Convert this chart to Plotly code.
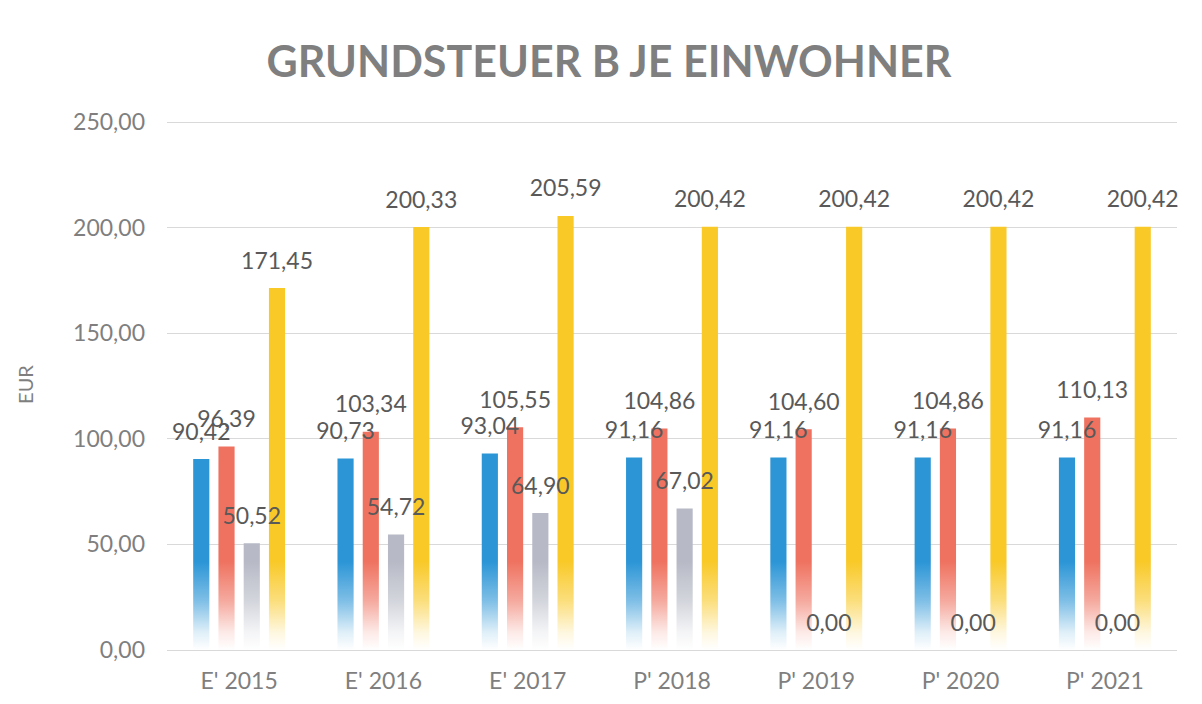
import plotly.graph_objects as go

categories = ["E' 2015", "E' 2016", "E' 2017", "P' 2018", "P' 2019", "P' 2020", "P' 2021"]
series_names = ["Reihe 1", "Reihe 2", "Reihe 3", "Reihe 4"]
s1 = [90.42, 90.73, 93.04, 91.16, 91.16, 91.16, 91.16]
s2 = [96.39, 103.34, 105.55, 104.86, 104.60, 104.86, 110.13]
s3 = [50.52, 54.72, 64.90, 67.02, 0.00, 0.00, 0.00]
s4 = [171.45, 200.33, 205.59, 200.42, 200.42, 200.42, 200.42]
colors = ["#2b95d6", "#ef7260", "#b7bac6", "#f9c928"]
y_ticks = [0, 50, 100, 150, 200, 250]

all_series = [s1, s2, s3, s4]
GAP = 0.3
FONT = "Lato"
Y_RANGE = [0, 251.5]
LABEL_LIFT = 6.5  # label offset above bar top, in axis units

fig = go.Figure()
for name, vals, col in zip(series_names, all_series, colors):
    fig.add_trace(go.Bar(x=categories, y=vals, name=name, marker=dict(color=col, line=dict(width=0)),
                         hoverinfo="skip", showlegend=False))

# white fade at the bottom of the bars
fig.add_trace(go.Scatter(x=[0, 1], y=[42, 42], xaxis="x2", mode="lines", line=dict(width=0),
                         fill="tozeroy",
                         fillgradient=dict(type="vertical",
                                           colorscale=[[0, "rgba(255,255,255,1)"], [0.2, "rgba(255,255,255,0.85)"],
                                                       [0.55, "rgba(255,255,255,0.4)"], [1, "rgba(255,255,255,0)"]]),
                         hoverinfo="skip", showlegend=False))

# data labels
for name, vals in zip(series_names, all_series):
    fig.add_trace(go.Scatter(x=categories, y=vals, xaxis="x3", yaxis="y2", mode="text", name=name,
                             texttemplate="%{y:.2f}", textposition="top center",
                             textfont=dict(family=FONT, size=23, color="#595959"),
                             cliponaxis=False, showlegend=False, hoverinfo="skip"))

fig.update_layout(
    width=1202, height=704,
    margin=dict(l=159, r=33, t=111, b=62),
    paper_bgcolor="white", plot_bgcolor="white",
    separators=",.",
    barmode="group", bargap=GAP, bargroupgap=0.36,
    scattermode="group", scattergap=GAP,
    title=dict(text="<b>GRUNDSTEUER B JE EINWOHNER</b>", x=0.5, xanchor="center", y=0.923, yanchor="middle",
               font=dict(family=FONT, size=43, color="#7f7f7f")),
    xaxis=dict(type="category", range=[-0.5, 6.5], showgrid=False, showline=True, linecolor="#d9d9d9",
               linewidth=1, ticks="", tickfont=dict(family=FONT, size=23, color="#7f7f7f"), ticklabelstandoff=10),
    xaxis2=dict(overlaying="x", range=[0, 1], visible=False),
    xaxis3=dict(overlaying="x", type="category", range=[-0.5, 6.5], visible=False,
                categoryorder="array", categoryarray=categories),
    yaxis=dict(range=Y_RANGE, tickvals=y_ticks, tickformat=".2f", showgrid=True, gridcolor="#d9d9d9",
               gridwidth=1, zeroline=False, ticks="", ticklabelstandoff=21,
               tickfont=dict(family=FONT, size=23, color="#7f7f7f"),
               title=dict(text="EUR", standoff=34, font=dict(family=FONT, size=20, color="#7f7f7f"))),
    yaxis2=dict(overlaying="y", range=[Y_RANGE[0] - LABEL_LIFT, Y_RANGE[1] - LABEL_LIFT], visible=False),
)

fig.write_html("out.html")
